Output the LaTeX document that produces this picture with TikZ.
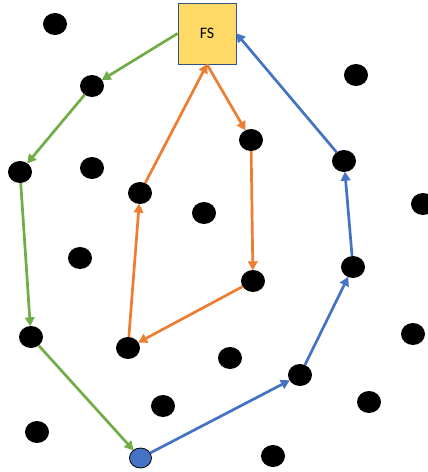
\documentclass[tikz,border=0pt]{standalone}
\usepackage{fontspec}
\setmainfont{Carlito}
\usetikzlibrary{arrows.meta,shapes.geometric}
\definecolor{fsfill}{HTML}{FFD966}
\definecolor{fsborder}{HTML}{2F528F}
\definecolor{pgreen}{HTML}{70AD47}
\definecolor{porange}{HTML}{ED7D31}
\definecolor{pblue}{HTML}{4472C4}
\tikzset{
  dot/.style={ellipse, fill=black, minimum width=24pt, minimum height=22pt, inner sep=0pt},
  bdot/.style={ellipse, fill=pblue, draw=black, line width=0.8pt, minimum width=22pt, minimum height=20pt, inner sep=0pt},
  fsbox/.style={rectangle, fill=fsfill, draw=fsborder, line width=0.8pt, minimum width=58pt, minimum height=61pt, inner sep=0pt, font=\fontsize{16}{19}\selectfont},
  link/.style={line width=2.7pt, -{Triangle[length=9pt,width=9.5pt]}, shorten >=-0.5pt},
  glink/.style={link, draw=pgreen},
  olink/.style={link, draw=porange},
  blink/.style={link, draw=pblue}
}
\begin{document}
\begin{tikzpicture}[x=1pt,y=-1pt]
\useasboundingbox (0,0) rectangle (428,472);
\node[fsbox] (FS) at (207,33.5) {FS};
\node[dot] (d1) at (55,24) {};
\node[dot] (g1) at (92,86) {};
\node[dot] (d2) at (356,75) {};
\node[dot] (g2) at (20,172) {};
\node[dot] (d3) at (92,168) {};
\node[dot] (o1) at (140,193) {};
\node[dot] (o2) at (251,140) {};
\node[dot] (d4) at (204,213) {};
\node[dot] (b3) at (344,161) {};
\node[dot] (d5) at (423,204) {};
\node[dot] (d6) at (80,258) {};
\node[dot] (o3) at (253,281) {};
\node[dot] (b2) at (353,267) {};
\node[dot] (g3) at (31,337) {};
\node[dot] (o4) at (128,348) {};
\node[dot] (d7) at (413,334) {};
\node[dot] (d8) at (230,358) {};
\node[dot] (b1) at (300,375) {};
\node[dot] (d9) at (163,406) {};
\node[dot] (d10) at (369,402) {};
\node[dot] (d11) at (37,432) {};
\node[dot] (d12) at (273,456) {};
\node[bdot] (S) at (140.5,458) {};
% green path
\draw[glink] (FS.west) -- (g1);
\draw[glink] (g1) -- (g2);
\draw[glink] (g2) -- (g3);
\draw[glink] (g3) -- (S);
% blue path
\draw[blink] (S) -- (b1);
\draw[blink] (b1) -- (b2);
\draw[blink] (b2) -- (b3);
\draw[blink] (b3) -- (FS.east);
% orange path
\draw[olink] (o4) -- (o1);
\draw[olink] (o1) -- (FS.south);
\draw[olink] (FS.south) -- (o2);
\draw[olink] (o2) -- (o3);
\draw[olink] (o3) -- (o4);
\end{tikzpicture}
\end{document}
